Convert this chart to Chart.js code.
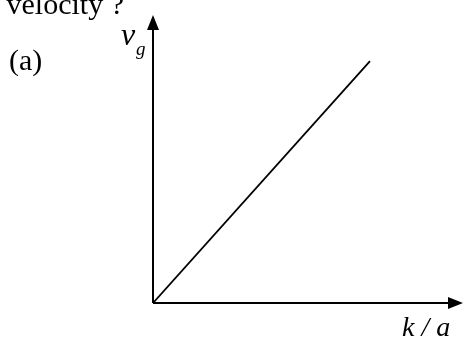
<!DOCTYPE html>
<html lang="en">
<head>
<meta charset="UTF-8">
<title>v_g vs k/a</title>
<script src="https://cdn.jsdelivr.net/npm/chart.js"></script>
<style>
  html, body { margin: 0; padding: 0; background: #fff; }
  #chart { display: block; }
</style>
</head>
<body>
<canvas id="chart" width="464" height="340"></canvas>
<script>
// sketch data: straight line through the origin
const kOverA = [0, 7];
const groupVelocity = [0, 8.4];
const xMax = 10;
const yMax = 10;

const serif = '"Liberation Serif", "DejaVu Serif", serif';

// axes with arrowheads plus the text labels
const sketchAxes = {
  id: 'sketchAxes',
  afterDraw(chart) {
    const ctx = chart.ctx;
    const x0 = chart.scales.x.getPixelForValue(0);
    const y0 = chart.scales.y.getPixelForValue(0);
    const xEnd = chart.scales.x.getPixelForValue(xMax);
    const yEnd = chart.scales.y.getPixelForValue(yMax);
    ctx.save();
    ctx.strokeStyle = '#000';
    ctx.fillStyle = '#000';
    ctx.lineWidth = 2;
    ctx.beginPath();
    ctx.moveTo(x0, y0);
    ctx.lineTo(x0, yEnd + 12);
    ctx.moveTo(x0, y0);
    ctx.lineTo(xEnd - 12, y0);
    ctx.stroke();
    // arrowheads
    ctx.beginPath();
    ctx.moveTo(x0, yEnd);
    ctx.lineTo(x0 - 6, yEnd + 15);
    ctx.lineTo(x0 + 6, yEnd + 15);
    ctx.closePath();
    ctx.fill();
    ctx.beginPath();
    ctx.moveTo(xEnd, y0);
    ctx.lineTo(xEnd - 15, y0 - 6);
    ctx.lineTo(xEnd - 15, y0 + 6);
    ctx.closePath();
    ctx.fill();

    ctx.textBaseline = 'alphabetic';
    ctx.font = '30px ' + serif;
    ctx.textAlign = 'right';
    ctx.fillText('velocity ?', 124, 14);
    ctx.textAlign = 'left';
    ctx.fillText('(a)', 9, 70);

    ctx.font = 'italic 32px ' + serif;
    ctx.fillText('v', 121, 45);
    ctx.font = 'italic 19px ' + serif;
    ctx.fillText('g', 136, 55);

    ctx.font = 'italic 28px ' + serif;
    ctx.fillText('k / a', 402, 336);
    ctx.restore();
  }
};

new Chart(document.getElementById('chart'), {
  type: 'scatter',
  data: {
    datasets: [{
      data: kOverA.map((x, i) => ({ x: x, y: groupVelocity[i] })),
      showLine: true,
      borderColor: '#000',
      borderWidth: 1.8,
      pointRadius: 0,
      fill: false
    }]
  },
  options: {
    responsive: false,
    animation: false,
    layout: { padding: { left: 153, right: 1, top: 15, bottom: 37 } },
    plugins: { legend: { display: false }, tooltip: { enabled: false } },
    scales: {
      x: { type: 'linear', min: 0, max: xMax, display: false },
      y: { type: 'linear', min: 0, max: yMax, display: false }
    }
  },
  plugins: [sketchAxes]
});
</script>
</body>
</html>
